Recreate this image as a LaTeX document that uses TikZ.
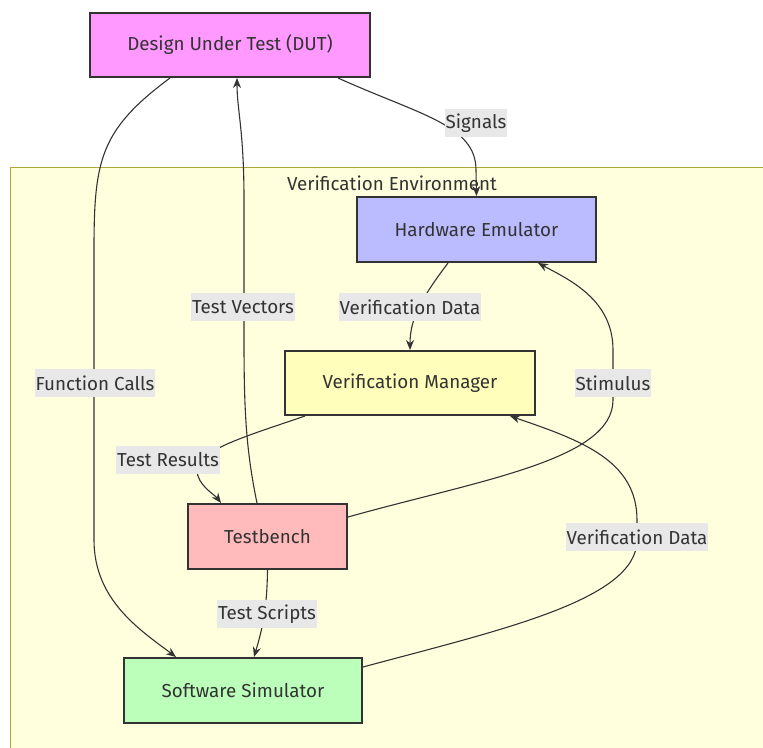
\documentclass[tikz,border=0pt]{standalone}
\usepackage{fontspec}
\setmainfont{Fira Sans}
\usetikzlibrary{arrows.meta}

\definecolor{dutfill}{HTML}{FF99FF}
\definecolor{hwefill}{HTML}{BBBBFF}
\definecolor{vmfill}{HTML}{FFFFBB}
\definecolor{tbfill}{HTML}{FFBBBB}
\definecolor{ssfill}{HTML}{BBFFBB}
\definecolor{envfill}{HTML}{FFFFDE}
\definecolor{envline}{HTML}{AAAA33}
\definecolor{lblfill}{HTML}{E8E8E8}
\definecolor{ink}{HTML}{333333}

\tikzset{
	block/.style={draw=ink, line width=2pt, inner sep=0pt, text=ink, font=\fontsize{18.8}{20}\selectfont},
	lbl/.style={fill=lblfill, inner xsep=1pt, inner ysep=0pt, minimum height=28pt, text=ink, font=\fontsize{18.8}{20}\selectfont},
	flow/.style={draw=ink, line width=1.1pt, -{Stealth[length=10pt, width=8pt]}}
}

\begin{document}
\begin{tikzpicture}[x=1pt, y=-1pt]
				\useasboundingbox (0,0) rectangle (763,747);
				\begin{scope}
					\fill[envfill] (10,167) rectangle (780,760);
					\draw[envline, line width=0.8pt] (10,760) -- (10,167) -- (780,167);
					\node[text=ink, font=\fontsize{18.8}{20}\selectfont] (envtitle) at (392,183) {Verification Environment};

					\node[block, fill=dutfill, minimum width=280pt, minimum height=64pt] (dut) at (230,45) {Design Under Test (DUT)};
					\node[block, fill=hwefill, minimum width=239pt, minimum height=65pt] (hwe) at (476.5,229.5) {Hardware Emulator};
					\node[block, fill=vmfill, minimum width=250pt, minimum height=64pt] (vm) at (410,383) {Verification Manager};
					\node[block, fill=tbfill, minimum width=159pt, minimum height=65pt] (tb) at (267.5,536.5) {Testbench};
					\node[block, fill=ssfill, minimum width=238pt, minimum height=65pt] (ss) at (243,690.5) {Software Simulator};

					\draw[flow] ([xshift=-60pt]dut.south) .. controls (100,130) and (94,160) .. (94,250) -- (94,540) .. controls (94,600) and (140,630) .. ([xshift=-67pt]ss.north); % da dut a ss
					\draw[flow] ([xshift=-10.5pt]tb.north) .. controls (246,450) and (244,410) .. (244,340) -- (244,200) .. controls (244,130) and (237,110) .. ([xshift=7pt]dut.south); % da tb a dut
					\draw[flow] ([xshift=108pt]dut.south) .. controls (420,115) and (476,125) .. (476,170) -- (hwe.north); % da dut a hwe
					\draw[flow] ([xshift=-28.5pt]hwe.south) .. controls (420,300) and (410,320) .. (vm.north); % da hwe a vm
					\draw[flow] ([xshift=-105pt]vm.south) .. controls (250,435) and (197,450) .. (197,470) .. controls (197,485) and (215,495) .. ([xshift=-46.5pt]tb.north); % da vm a tb
					\draw[flow] ([yshift=19.5pt]tb.east) .. controls (480,480) and (613,460) .. (613,400) -- (613,350) .. controls (613,300) and (570,280) .. ([xshift=61.5pt]hwe.south); % da tb a hwe
					\draw[flow] ([yshift=23.5pt]ss.east) .. controls (500,630) and (637,600) .. (637,540) -- (637,520) .. controls (637,460) and (580,440) .. ([xshift=100pt]vm.south); % da ss a vm
					\draw[flow] (tb.south) .. controls (267,610) and (262,630) .. ([xshift=11pt]ss.north); % da tb a ss

					\node[lbl] (lcalls) at (95,383) {Function Calls};
					\node[lbl] (lvectors) at (243,307) {Test Vectors};
					\node[lbl] (lsignals) at (476,123) {Signals};
					\node[lbl] (lhwdata) at (410,307) {Verification Data};
					\node[lbl] (lresults) at (168,460) {Test Results};
					\node[lbl] (lstimulus) at (613,383) {Stimulus};
					\node[lbl] (lswdata) at (637,537) {Verification Data};
					\node[lbl] (lscripts) at (267,614) {Test Scripts};
				\end{scope}
			\end{tikzpicture}
\end{document}
